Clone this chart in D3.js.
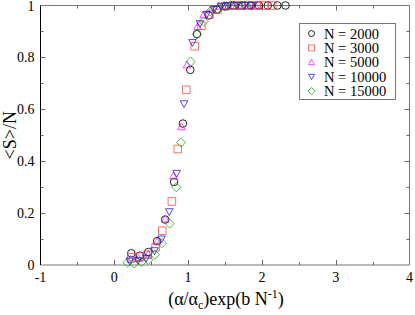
<!DOCTYPE html>
<html>
<head>
<meta charset="utf-8">
<script src="https://cdn.jsdelivr.net/npm/d3@7"></script>
<style>
  body { margin: 0; background: #fff; }
</style>
</head>
<body>
<svg width="415" height="315"></svg>
<script>
const width = 415
const height = 315
const margin = { top: 5.5, right: 5.5, bottom: 50, left: 40.5 }
const FONT = '"Liberation Serif", "Times New Roman", serif'

// series: x = (alpha/alpha_c) exp(b/N), y = <S>/N
const seriesNames = ['N = 2000', 'N = 3000', 'N = 5000', 'N = 10000', 'N = 15000']
const symbols = ['circle', 'square', 'up', 'down', 'diamond']
const colors = ['#000000', '#ff3030', '#ff00ff', '#0000ff', '#00a000']

const x2000 = [0.23, 0.35, 0.46, 0.58, 0.69, 0.81, 0.93, 1.03, 1.12, 1.28, 1.39, 1.51, 1.62, 1.73, 1.85, 1.96, 2.08, 2.21, 2.32]
const y2000 = [0.045, 0.036, 0.05, 0.092, 0.175, 0.32, 0.545, 0.752, 0.89, 0.962, 0.984, 0.997, 1, 1, 1, 1, 1, 1, 1]

const x3000 = [0.23, 0.34, 0.45, 0.56, 0.65, 0.78, 0.86, 0.975, 1.09, 1.18, 1.29, 1.40, 1.50, 1.61, 1.72, 1.82, 1.93, 2.03, 2.14]
const y3000 = [0.03, 0.032, 0.039, 0.068, 0.132, 0.245, 0.447, 0.675, 0.843, 0.922, 0.965, 0.985, 0.997, 1, 1, 1, 1, 1, 1]

const x5000 = [0.22, 0.33, 0.46, 0.58, 0.69, 0.80, 0.91, 0.985, 1.13, 1.21, 1.32, 1.42, 1.52, 1.62, 1.72, 1.82, 1.91]
const y5000 = [0.022, 0.025, 0.042, 0.09, 0.178, 0.343, 0.533, 0.771, 0.919, 0.964, 0.985, 0.997, 1, 1, 1, 1, 1]

const x10000 = [0.21, 0.32, 0.43, 0.545, 0.64, 0.745, 0.845, 0.945, 1.06, 1.16, 1.25, 1.35, 1.45, 1.55, 1.66, 1.76, 1.86]
const y10000 = [0.015, 0.017, 0.026, 0.055, 0.1, 0.205, 0.353, 0.621, 0.857, 0.93, 0.965, 0.985, 0.997, 1, 1, 1, 1]

const x15000 = [0.18, 0.27, 0.37, 0.46, 0.55, 0.645, 0.75, 0.84, 0.905, 1.035, 1.12, 1.21, 1.30, 1.40, 1.49, 1.58, 1.68, 1.77, 1.86]
const y15000 = [0.009, 0.006, 0.012, 0.02, 0.04, 0.084, 0.16, 0.3, 0.472, 0.784, 0.889, 0.938, 0.977, 0.987, 0.998, 1, 1, 1, 1]

const xs = [x2000, x3000, x5000, x10000, x15000]
const ys = [y2000, y3000, y5000, y10000, y15000]

const xTicks = [-1, 0, 1, 2, 3, 4]
const yTicks = [0, 0.2, 0.4, 0.6, 0.8, 1]
const yTickLabels = ['0', '0.2', '0.4', '0.6', '0.8', '1']

const svg = d3.select('svg')

const x = d3.scaleLinear().domain([-1, 4]).range([margin.left, width - margin.right])
const y = d3.scaleLinear().domain([0, 1]).range([height - margin.bottom, margin.top])

const x0 = margin.left, x1 = width - margin.right
const y0 = height - margin.bottom, y1 = margin.top

// frame
const frame = svg.append('g').attr('fill', 'none')
frame.append('line').attr('x1', x0).attr('x2', x1).attr('y1', y1).attr('y2', y1).attr('stroke', '#777')
frame.append('line').attr('x1', x1).attr('x2', x1).attr('y1', y1).attr('y2', y0).attr('stroke', '#777')
frame.append('line').attr('x1', x0).attr('x2', x1).attr('y1', y0).attr('y2', y0).attr('stroke', '#777')
frame.append('line').attr('x1', x0).attr('x2', x0).attr('y1', y1).attr('y2', y0).attr('stroke', '#000')

// inward ticks on all four sides
const xMinor = d3.range(-0.5, 4, 1)
const yMinor = d3.range(0.1, 1, 0.2)
const tickG = svg.append('g').attr('stroke', '#666').attr('stroke-width', 1)
const addXTicks = (vals, len) => {
    tickG.selectAll(null).data(vals).enter().append('line')
        .attr('x1', d => Math.round(x(d)) + 0.5).attr('x2', d => Math.round(x(d)) + 0.5)
        .attr('y1', y0).attr('y2', y0 - len)
    tickG.selectAll(null).data(vals).enter().append('line')
        .attr('x1', d => Math.round(x(d)) + 0.5).attr('x2', d => Math.round(x(d)) + 0.5)
        .attr('y1', y1).attr('y2', y1 + len)
}
const addYTicks = (vals, len) => {
    tickG.selectAll(null).data(vals).enter().append('line')
        .attr('y1', d => Math.round(y(d)) + 0.5).attr('y2', d => Math.round(y(d)) + 0.5)
        .attr('x1', x0).attr('x2', x0 + len)
    tickG.selectAll(null).data(vals).enter().append('line')
        .attr('y1', d => Math.round(y(d)) + 0.5).attr('y2', d => Math.round(y(d)) + 0.5)
        .attr('x1', x1).attr('x2', x1 - len)
}
addXTicks(xTicks.slice(1, -1), 5)
addXTicks(xMinor, 3)
addYTicks(yTicks.slice(1, -1), 5)
addYTicks(yMinor, 3)

// tick labels
svg.append('g').selectAll('text').data(xTicks).enter().append('text')
    .attr('x', d => x(d)).attr('y', y0 + 17)
    .attr('text-anchor', 'middle').attr('font-size', 14)
    .style('font-family', FONT)
    .text(d => d)
svg.append('g').selectAll('text').data(yTicks).enter().append('text')
    .attr('x', x0 - 6).attr('y', d => y(d) + 5)
    .attr('text-anchor', 'end').attr('font-size', 14)
    .style('font-family', FONT)
    .text((d, i) => yTickLabels[i])

// axis titles
const xt = svg.append('text').attr('x', 226).attr('y', 305)
    .attr('text-anchor', 'middle').attr('font-size', 18)
    .style('font-family', FONT)
xt.append('tspan').text('(α/α')
xt.append('tspan').attr('font-size', 12).attr('dy', 4).text('c')
xt.append('tspan').attr('dy', -4).text(')exp(b N')
xt.append('tspan').attr('font-size', 12).attr('dy', -7).text('-1')
xt.append('tspan').attr('dy', 7).text(')')

svg.append('text')
    .attr('transform', `translate(16,${(y0 + y1) / 2}) rotate(-90)`)
    .attr('text-anchor', 'middle').attr('font-size', 18)
    .style('font-family', FONT)
    .text('<S>/N')

// marker path generator
function markerPath(sym, r) {
    if (sym === 'circle') return `M${r},0A${r},${r} 0 1,1 ${-r},0A${r},${r} 0 1,1 ${r},0Z`
    if (sym === 'square') return `M${-r},${-r}H${r}V${r}H${-r}Z`
    if (sym === 'up') return `M0,${-r}L${r},${r * 0.8}L${-r},${r * 0.8}Z`
    if (sym === 'down') return `M0,${r}L${r},${-r * 0.8}L${-r},${-r * 0.8}Z`
    return `M0,${-r}L${r},0L0,${r}L${-r},0Z`
}

const plot = svg.append('g')
seriesNames.forEach((name, s) => {
    const pts = xs[s].map((v, i) => [v, ys[s][i]])
    plot.append('g').selectAll('path').data(pts).enter().append('path')
        .attr('transform', d => `translate(${x(d[0])},${y(d[1])})`)
        .attr('d', markerPath(symbols[s], s === 4 ? 4.6 : 3.8))
        .attr('fill', 'none')
        .attr('stroke', colors[s])
        .attr('stroke-opacity', s === 0 ? 0.85 : 0.7)
        .attr('stroke-width', 1)
})

// legend
const lg = svg.append('g')
lg.append('rect').attr('x', 299.5).attr('y', 23.5).attr('width', 96).attr('height', 76)
    .attr('fill', '#fff').attr('stroke', '#777')
seriesNames.forEach((name, s) => {
    const cy = 33.5 + s * 14.4
    lg.append('path')
        .attr('transform', `translate(311.5,${cy})`)
        .attr('d', markerPath(symbols[s], s === 4 ? 3.6 : 3))
        .attr('fill', 'none').attr('stroke', colors[s])
        .attr('stroke-opacity', s === 0 ? 0.85 : 0.7)
    lg.append('text').attr('x', 324).attr('y', cy + 5)
        .attr('font-size', 14.5)
        .style('font-family', FONT)
        .text(name)
})
</script>
</body>
</html>
